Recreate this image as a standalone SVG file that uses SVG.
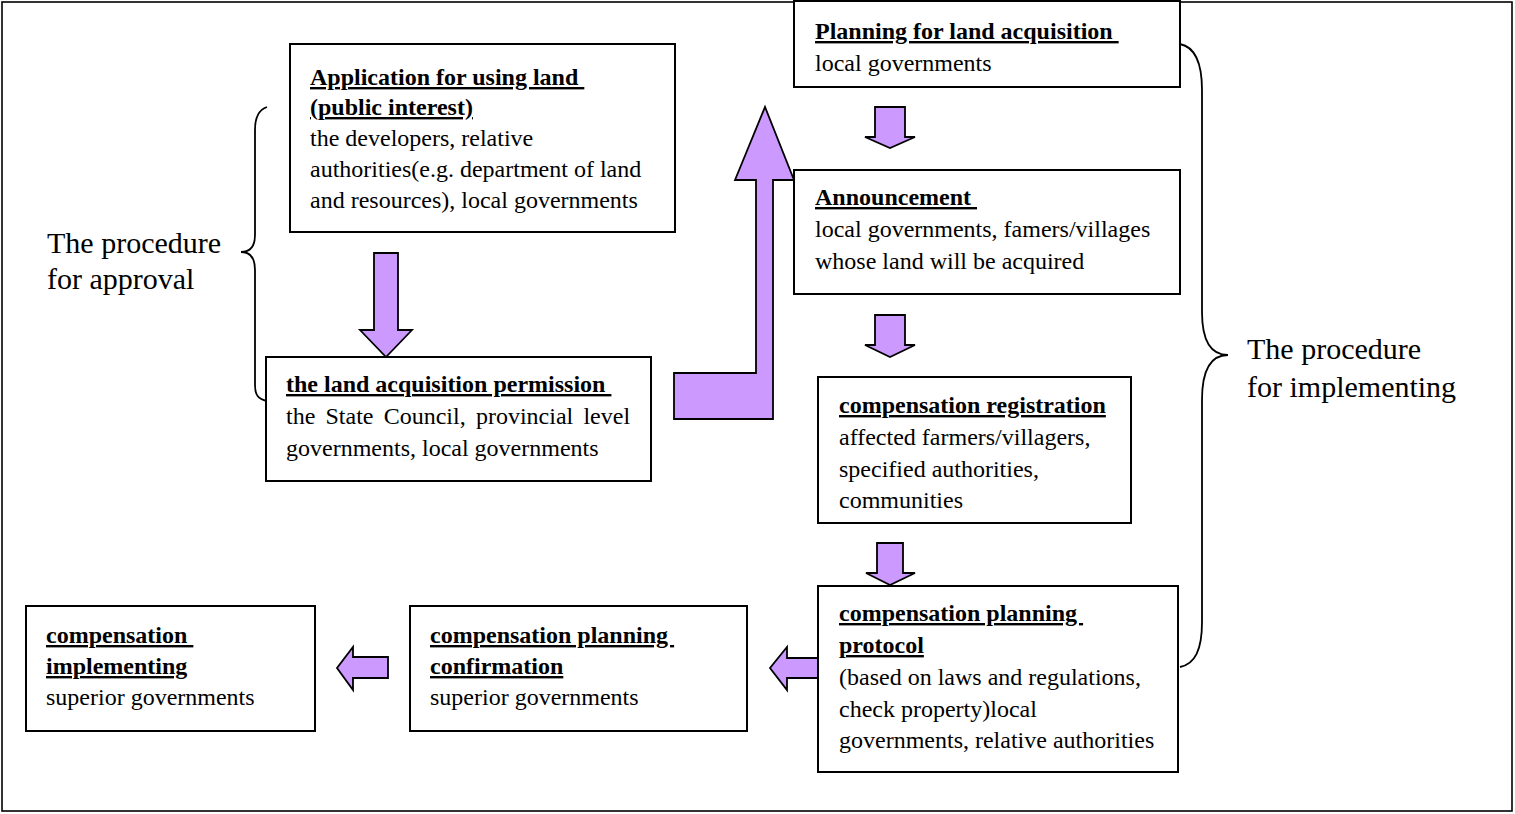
<svg xmlns="http://www.w3.org/2000/svg" width="1515" height="814" viewBox="0 0 1515 814">
  <style>
    .frame { fill: #ffffff; stroke: #000000; stroke-width: 1.6; }
    .box { fill: #ffffff; stroke: #000000; stroke-width: 2; }
    .arrow { fill: #cc99ff; stroke: #000000; stroke-width: 1.8; stroke-linejoin: miter; }
    .brace { fill: none; stroke: #000000; stroke-width: 1.8; }
    text { font-family: "Liberation Serif", "Times New Roman", serif; font-size: 24px; fill: #000000; }
    .title { font-weight: bold; text-decoration: underline; }
    .side { font-size: 30px; }
  </style>

  <!-- page frame -->
  <rect class="frame" x="2" y="2" width="1510" height="809"/>

  <!-- connectors: block arrows and grouping braces -->
  <g id="connectors">
    <polygon class="arrow" points="374,253 398,253 398,330 412,330 386,357 360,330 374,330"/>
    <polygon class="arrow" points="674,373 756,373 756,180 735,180 765,107 794,180 773,180 773,419 674,419"/>
    <polygon class="arrow" points="875,107 905,107 905,137 915,137 890,148 865,137 875,137"/>
    <polygon class="arrow" points="875,315 905,315 905,345 915,345 890,357 865,345 875,345"/>
    <polygon class="arrow" points="877,543 903,543 903,573 915,573 890,585 866,573 877,573"/>
    <polygon class="arrow" points="818,658 818,678 787,678 787,690 770,668 787,647 787,658"/>
    <polygon class="arrow" points="388,657 388,678 353,678 353,690 337,668 353,647 353,657"/>
    <path class="brace" d="M 267,107 C 258,110 255,118 255,130 L 255,235 C 255,246 250,252 241,252 C 250,252 255,258 255,270 L 255,385 C 255,395 258,399 267,401"/>
    <path class="brace" d="M 1180,44 C 1195,47 1202,62 1202,90 L 1202,312 C 1202,340 1210,355 1228,355 C 1210,355 1202,372 1202,400 L 1202,622 C 1202,650 1195,664 1180,667"/>
  </g>

  <!-- side labels -->
  <g id="label-approval">
    <text class="side" x="47" y="253">The procedure</text>
    <text class="side" x="47" y="289">for approval</text>
  </g>
  <g id="label-implementing">
    <text class="side" x="1247" y="359">The procedure</text>
    <text class="side" x="1247" y="397">for implementing</text>
  </g>

  <g id="node-application">
    <rect class="box" x="290" y="44" width="385" height="188"/>
    <text class="title" x="310" y="85" xml:space="preserve">Application for using land </text>
    <text class="title" x="310" y="115">(public interest)</text>
    <text x="310" y="146">the developers, relative</text>
    <text x="310" y="177">authorities(e.g. department of land</text>
    <text x="310" y="208">and resources), local governments</text>
  </g>

  <g id="node-permission">
    <rect class="box" x="266" y="357" width="385" height="124"/>
    <text class="title" x="286" y="392" xml:space="preserve">the land acquisition permission </text>
    <text x="286" y="424" word-spacing="4.2">the State Council, provincial level</text>
    <text x="286" y="456">governments, local governments</text>
  </g>

  <g id="node-planning">
    <rect class="box" x="794" y="1" width="386" height="86"/>
    <text class="title" x="815" y="39" xml:space="preserve">Planning for land acquisition </text>
    <text x="815" y="71">local governments</text>
  </g>

  <g id="node-announcement">
    <rect class="box" x="794" y="170" width="386" height="124"/>
    <text class="title" x="815" y="205" xml:space="preserve">Announcement </text>
    <text x="815" y="237">local governments, famers/villages</text>
    <text x="815" y="269">whose land will be acquired</text>
  </g>

  <g id="node-registration">
    <rect class="box" x="818" y="377" width="313" height="146"/>
    <text class="title" x="839" y="413">compensation registration</text>
    <text x="839" y="445">affected farmers/villagers,</text>
    <text x="839" y="477">specified authorities,</text>
    <text x="839" y="508">communities</text>
  </g>

  <g id="node-protocol">
    <rect class="box" x="818" y="586" width="360" height="186"/>
    <text class="title" x="839" y="621" xml:space="preserve">compensation planning </text>
    <text class="title" x="839" y="653">protocol</text>
    <text x="839" y="685">(based on laws and regulations,</text>
    <text x="839" y="717">check property)local</text>
    <text x="839" y="748">governments, relative authorities</text>
  </g>

  <g id="node-confirmation">
    <rect class="box" x="410" y="606" width="337" height="125"/>
    <text class="title" x="430" y="643" xml:space="preserve">compensation planning </text>
    <text class="title" x="430" y="674">confirmation</text>
    <text x="430" y="705">superior governments</text>
  </g>

  <g id="node-implementing">
    <rect class="box" x="26" y="606" width="289" height="125"/>
    <text class="title" x="46" y="643" xml:space="preserve">compensation </text>
    <text class="title" x="46" y="674">implementing</text>
    <text x="46" y="705">superior governments</text>
  </g>
</svg>
